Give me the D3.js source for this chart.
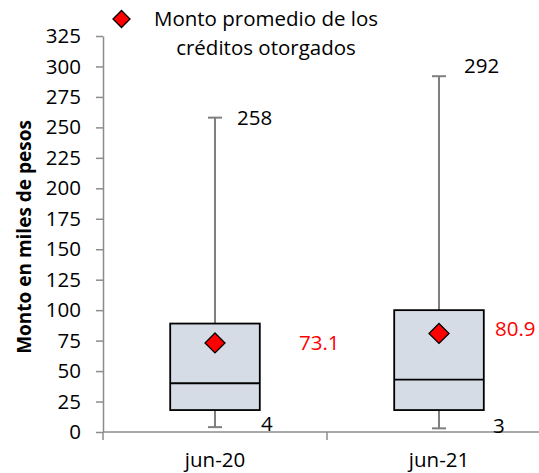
<!DOCTYPE html>
<html><head><meta charset="utf-8">
<script src="https://cdn.jsdelivr.net/npm/d3@7"></script>
<style>body{margin:0;background:#fff}svg{display:block}text{font-family:"Open Sans",sans-serif}</style>
</head><body><svg id="c" width="539" height="473"></svg>
<script>
const categories = ["jun-20", "jun-21"];
const minValues = [4, 3];
const q1Values = [18, 18];
const medianValues = [40, 43];
const q3Values = [89, 100];
const maxValues = [258, 292];
const meanValues = [73.1, 80.9];
const yTicks = [0, 25, 50, 75, 100, 125, 150, 175, 200, 225, 250, 275, 300, 325];
const legendLines = ["Monto promedio de los", "créditos otorgados"];
const yTitle = "Monto en miles de pesos";

// layout-only label nudges (pixels)
const maxLabelDx = [22, 25], maxLabelDy = [0, -10];
const minLabelDx = [46, 54], minLabelDy = [-3, -3];
const meanLabelDx = [84, 56], meanLabelDy = [0, -5];

const svg = d3.select("#c");
const x = d3.scaleBand().domain(categories).range([103, 551]).padding(0);
const y = d3.scaleLinear().domain([0, 325]).range([432, 36]);
const fs = 20.5;

// Y axis
const ya = svg.append("g").attr("transform","translate(103,0)")
  .call(d3.axisLeft(y).tickValues(yTicks).tickSize(7).tickPadding(15).tickSizeOuter(0));
ya.select(".domain").attr("stroke","#8c8c8c").attr("stroke-width",1.5);
ya.selectAll(".tick line").attr("stroke","#8c8c8c").attr("stroke-width",1.5);
ya.selectAll(".tick text").attr("font-size",fs).attr("fill","#000").attr("font-family","Open Sans");

// X axis
const xg = svg.append("g");
xg.append("line").attr("x1",103).attr("x2",551).attr("y1",y(0)).attr("y2",y(0))
  .attr("stroke","#8c8c8c").attr("stroke-width",1.5);
const bounds = categories.map(c => x(c)).concat([x(categories[categories.length-1]) + x.bandwidth()]);
xg.selectAll(".xt").data(bounds).join("line").attr("x1",d=>d).attr("x2",d=>d)
  .attr("y1",y(0)).attr("y2",y(0)+8).attr("stroke","#8c8c8c").attr("stroke-width",1.5);
xg.selectAll(".xl").data(categories).join("text")
  .attr("x",d=>x(d)+x.bandwidth()/2).attr("y",y(0)+35).attr("text-anchor","middle")
  .attr("font-size",fs).text(d=>d);

// Y title
svg.append("text").attr("transform","translate(31,237) rotate(-90)").attr("text-anchor","middle")
  .attr("font-size",19).attr("font-weight","bold").text(yTitle);

const bw = x.bandwidth()*0.4;
const g = svg.append("g");
categories.forEach((c,i) => {
  const cx = x(c) + x.bandwidth()/2;
  g.append("line").attr("x1",cx).attr("x2",cx).attr("y1",y(maxValues[i])).attr("y2",y(q3Values[i]))
    .attr("stroke","#7f7f7f").attr("stroke-width",2);
  g.append("line").attr("x1",cx).attr("x2",cx).attr("y1",y(minValues[i])).attr("y2",y(q1Values[i]))
    .attr("stroke","#7f7f7f").attr("stroke-width",2);
  [maxValues[i], minValues[i]].forEach(v => g.append("line").attr("x1",cx-7).attr("x2",cx+7)
    .attr("y1",y(v)).attr("y2",y(v)).attr("stroke","#7f7f7f").attr("stroke-width",2));
  g.append("rect").attr("x",cx-bw/2).attr("width",bw).attr("y",y(q3Values[i]))
    .attr("height",y(q1Values[i])-y(q3Values[i])).attr("fill","#d6dce5").attr("stroke","#000").attr("stroke-width",1.8);
  g.append("line").attr("x1",cx-bw/2).attr("x2",cx+bw/2).attr("y1",y(medianValues[i])).attr("y2",y(medianValues[i]))
    .attr("stroke","#000").attr("stroke-width",1.8);
  const my = y(meanValues[i]);
  g.append("path").attr("d",`M${cx},${my-10}L${cx+10},${my}L${cx},${my+10}L${cx-10},${my}Z`)
    .attr("fill","#ff0000").attr("stroke","#000").attr("stroke-width",1.3);
  g.append("text").attr("x",cx+maxLabelDx[i]).attr("y",y(maxValues[i])+maxLabelDy[i]).attr("dy","0.35em")
    .attr("font-size",fs).text(maxValues[i]);
  g.append("text").attr("x",cx+minLabelDx[i]).attr("y",y(minValues[i])+minLabelDy[i]).attr("dy","0.35em")
    .attr("font-size",fs).text(minValues[i]);
  g.append("text").attr("x",cx+meanLabelDx[i]).attr("y",my+meanLabelDy[i]).attr("dy","0.35em")
    .attr("font-size",fs).attr("fill","#ff0000").text(meanValues[i].toFixed(1));
});

// legend
svg.append("path").attr("d","M121.5,10.5L130,19L121.5,27.5L113,19Z").attr("fill","#ff0000").attr("stroke","#000").attr("stroke-width",1.3);
svg.selectAll(".lg").data(legendLines).join("text").attr("x",266).attr("y",(d,i)=>19+i*29).attr("dy","0.35em")
  .attr("text-anchor","middle").attr("font-size",fs).text(d=>d);
</script></body></html>
